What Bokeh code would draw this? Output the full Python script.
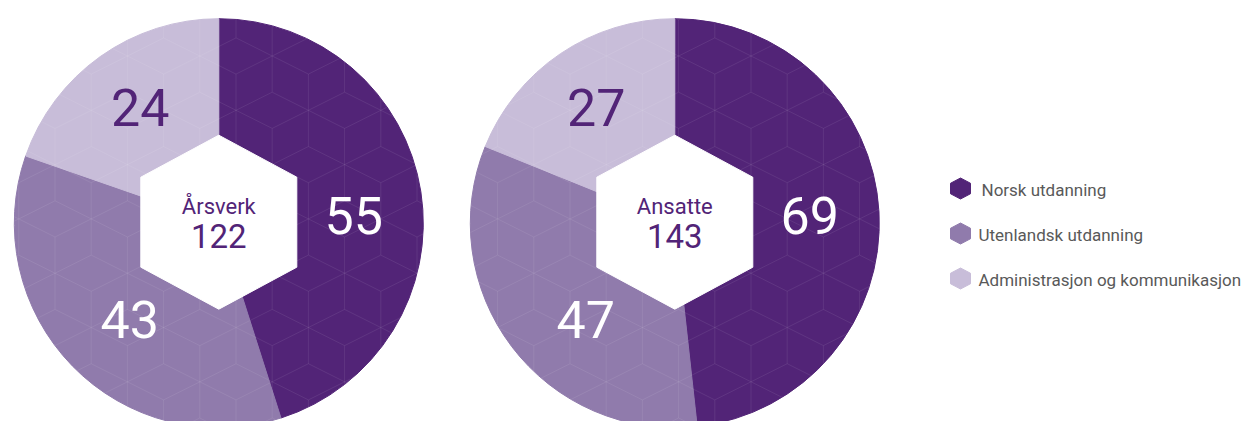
import numpy as np
from bokeh.plotting import figure
from bokeh.models import Range1d
from bokeh.core.properties import value
from bokeh.embed import file_html
from bokeh.resources import INLINE

# ---------------- data ----------------
categories = ["Norsk utdanning", "Utenlandsk utdanning", "Administrasjon og kommunikasjon"]
arsverk = [55, 43, 24]
ansatte = [69, 47, 27]
pie_titles = ["Årsverk", "Ansatte"]

# ---------------- style ----------------
colors = ["#522477", "#907bac", "#c8bdd9"]
label_colors = ["#ffffff", "#ffffff", "#522477"]
text_purple = "#522477"
FONT = "Roboto"
label_angle_deg = [88, 222, 325]     # clockwise from 12 o'clock, per category
label_radius = [135, 133, 137]

W, H = 1258, 421
X0, YTOP = 0, 421
R = 204.5
pie_centers = [(218.3, 198.3), (674.3, 198.3)]
lattice_origins = [(271.7, 329.3), (750.5, 329.3)]

p = figure(width=W, height=H, x_range=Range1d(X0, X0 + W), y_range=Range1d(YTOP - H, YTOP),
           output_backend="svg", toolbar_location=None, min_border=0,
           x_axis_location=None, y_axis_location=None)
p.xgrid.visible = False
p.ygrid.visible = False
p.outline_line_color = None
p.background_fill_color = "white"
p.border_fill_color = "white"


def hex_pattern(cx, cy, ox, oy, r, h=18.1):
    a = 2 * h
    segs_x, segs_y = [], []
    for j in range(-8, 9):
        for i in range(-8, 9):
            hx = ox + i * 2 * a + (j % 2) * a
            hy = oy + j * 3 * h
            T = (hx, hy + 2 * h); UR = (hx + a, hy + h); LR = (hx + a, hy - h)
            B = (hx, hy - 2 * h); LL = (hx - a, hy - h); C = (hx, hy)
            for (p0, p1) in [(T, UR), (UR, LR), (LR, B), (C, T), (C, LR), (C, LL)]:
                x0, y0 = p0; x1, y1 = p1
                dx, dy = x1 - x0, y1 - y0
                fx, fy = x0 - cx, y0 - cy
                A = dx * dx + dy * dy
                Bq = 2 * (fx * dx + fy * dy)
                Cq = fx * fx + fy * fy - r * r
                disc = Bq * Bq - 4 * A * Cq
                if disc <= 0:
                    continue
                sq = np.sqrt(disc)
                t1 = max(0.0, (-Bq - sq) / (2 * A))
                t2 = min(1.0, (-Bq + sq) / (2 * A))
                if t2 <= t1:
                    continue
                segs_x.append([x0 + t1 * dx, x0 + t2 * dx])
                segs_y.append([y0 + t1 * dy, y0 + t2 * dy])
    return segs_x, segs_y


HEX_W, HEX_TOP, HEX_SIDE = 78, 87, 45
hex_dx = [0, HEX_W, HEX_W, 0, -HEX_W, -HEX_W]
hex_dy = [HEX_TOP, HEX_SIDE, -HEX_SIDE, -HEX_TOP, -HEX_SIDE, HEX_SIDE]

for k, vals in enumerate([arsverk, ansatte]):
    cx, cy = pie_centers[k]
    total = sum(vals)
    cum = np.concatenate([[0], np.cumsum(vals)])
    starts = [np.pi / 2 - 2 * np.pi * cum[i] / total for i in range(len(vals))]
    ends = [np.pi / 2 - 2 * np.pi * cum[i + 1] / total for i in range(len(vals))]
    p.wedge(x=[cx] * len(vals), y=[cy] * len(vals), radius=R,
            start_angle=starts, end_angle=ends, direction="clock",
            fill_color=colors, line_color=colors, line_width=1)

    sx, sy = hex_pattern(cx, cy, lattice_origins[k][0], lattice_origins[k][1], R)
    p.multi_line(xs=sx, ys=sy, line_color="white", line_alpha=0.08, line_width=1)

    p.patch(x=[cx + d for d in hex_dx], y=[cy + 1 + d for d in hex_dy],
            fill_color="white", line_color="white", line_width=1)

    lx = [cx + label_radius[i] * np.sin(np.radians(label_angle_deg[i])) for i in range(len(vals))]
    ly = [cy + 3 + label_radius[i] * np.cos(np.radians(label_angle_deg[i])) for i in range(len(vals))]
    p.text(x=lx, y=ly, text=[str(v) for v in vals], text_color=label_colors,
           text_font=value(FONT), text_font_size="52px",
           text_align="center", text_baseline="middle")

    p.text(x=[cx], y=[cy + 17], text=[pie_titles[k]], text_color=text_purple,
           text_font=value(FONT), text_font_size="22px",
           text_align="center", text_baseline="middle")
    p.text(x=[cx], y=[cy - 13], text=[str(total)], text_color=text_purple,
           text_font=value(FONT), text_font_size="33px",
           text_align="center", text_baseline="middle")

# ---------------- legend ----------------
leg_x = 960
leg_y = [421 - 188, 421 - 233, 421 - 278]
mk_w, mk_r = 10, 10.5
mk_dx = [0, mk_w, mk_w, 0, -mk_w, -mk_w]
mk_dy = [mk_r, mk_r / 2, -mk_r / 2, -mk_r, -mk_r / 2, mk_r / 2]
p.patches(xs=[[leg_x + d for d in mk_dx] for _ in categories],
          ys=[[y + d for d in mk_dy] for y in leg_y],
          fill_color=colors, line_color=colors, line_width=1)
p.text(x=[981, 978, 978], y=[y - 1 for y in leg_y], text=categories, text_color="#595959",
       text_font=value(FONT), text_font_size="17px",
       text_align="left", text_baseline="middle")

open("out.html", "w").write(file_html(p, INLINE))
